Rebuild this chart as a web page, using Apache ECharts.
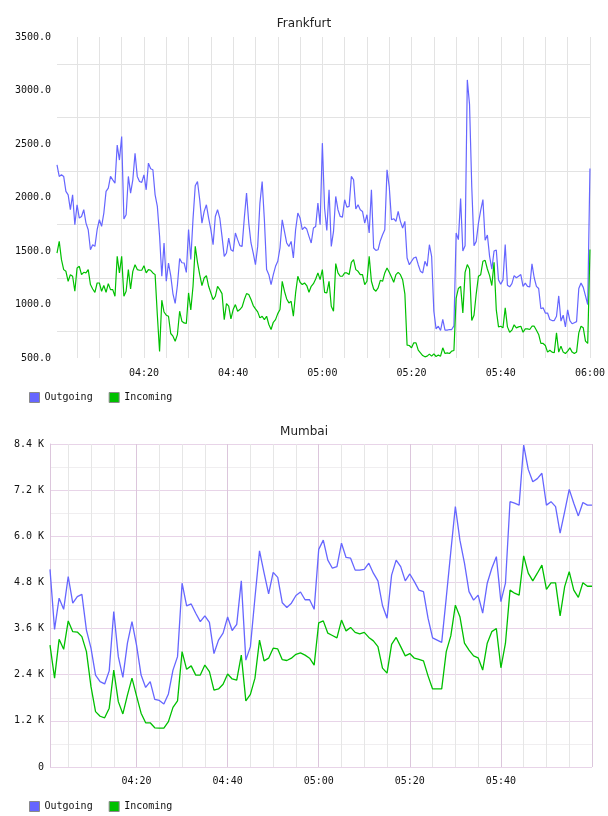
<!DOCTYPE html>
<html>
<head>
<meta charset="utf-8">
<script src="https://cdn.jsdelivr.net/npm/echarts@6/dist/echarts.min.js"></script>
<style>
html,body{margin:0;padding:0;background:#fff;}
#chart{width:608px;height:816px;}
</style>
</head>
<body>
<div id="chart"></div>
<script>
// ---- Frankfurt: 30-second samples from 04:00:30 to 06:00:00 ----
const fraStartMin = 240.5;   // 04:00:30
const fraStepMin = 0.5;
const fraOutgoing = [
2305,2197,2212,2197,2057,2025,1886,2025,1745,1932,
1808,1823,1886,1761,1699,1512,1559,1543,1699,1792,
1730,1854,2057,2088,2197,2165,2134,2490,2350,2570,
1800,1839,2197,2041,2165,2414,2197,2150,2141,2212,
2072,2321,2268,2259,2025,1917,1640,1264,1575,1217,
1388,1270,1100,1010,1180,1430,1390,1388,1300,1700,
1420,1800,2110,2150,1979,1761,1870,1932,1808,1699,
1559,1823,1886,1808,1637,1450,1481,1621,1512,1497,
1668,1606,1550,1543,1808,2041,1761,1575,1481,1372,
1543,1948,2150,1792,1326,1279,1186,1279,1357,1404,
1528,1792,1683,1575,1543,1590,1435,1699,1854,1808,
1699,1724,1705,1637,1575,1715,1730,1948,1746,2508,
1900,1693,2072,1543,1683,2010,1886,1823,1817,1979,
1910,1917,2197,2166,1892,1932,1886,1870,1761,1839,
1668,2072,1528,1506,1512,1596,1652,1699,2259,2100,
1792,1802,1777,1870,1777,1715,1777,1435,1372,1404,
1435,1444,1372,1310,1295,1404,1357,1559,1450,937,
772,797,757,860,760,760,766,766,800,1668,
1606,1990,1500,1550,3099,2870,2100,1550,1590,1760,
1880,1980,1600,1650,1450,1330,1500,1510,1230,1190,
1230,1560,1180,1165,1195,1270,1250,1265,1280,1170,
1200,1170,1165,1380,1250,1170,1150,960,970,920,
920,860,850,850,890,1080,845,900,790,950,
850,820,830,840,1150,1200,1160,1080,1000,2270
];
const fraIncoming = [
1481,1590,1419,1326,1310,1217,1279,1264,1124,1341,
1357,1279,1301,1295,1326,1186,1145,1114,1201,1201,
1124,1177,1114,1195,1139,1139,1077,1450,1295,1450,
1077,1124,1326,1145,1310,1372,1326,1320,1320,1363,
1295,1326,1320,1295,1279,900,560,1040,930,900,
890,729,704,657,719,937,844,828,822,1108,
950,1170,1543,1394,1279,1177,1248,1270,1170,1108,
1046,1077,1170,1139,1102,859,1009,984,866,953,
999,937,953,977,1046,1102,1093,1046,990,959,
931,875,890,859,890,813,766,834,859,915,
953,1217,1124,1052,1015,1030,890,1108,1264,1208,
1186,1201,1177,1114,1170,1195,1239,1295,1232,1326,
1114,1108,1217,984,937,1382,1295,1264,1264,1295,
1295,1279,1394,1419,1326,1310,1279,1279,1186,1217,
1450,1217,1145,1124,1155,1226,1217,1295,1341,1301,
1257,1208,1279,1301,1279,1232,1100,620,617,595,
642,642,573,548,523,511,517,536,517,539,
514,527,517,595,542,548,542,564,570,1060,
1150,1170,922,1300,1373,1332,850,900,1100,1264,
1279,1404,1413,1332,1270,1177,1394,950,791,797,
782,968,791,741,760,810,782,791,797,741,
772,772,766,797,797,760,720,636,636,617,
555,573,555,549,735,555,611,555,542,564,
595,555,542,555,735,797,782,657,636,1513
];
const fraYTicks = [500, 3500, 500]; // min, max, step

// ---- Mumbai: 1-minute samples from 04:01 to 06:00 (values in thousands) ----
const mumStartMin = 241;     // 04:01
const mumStepMin = 1;
const mumOutgoing = [
5.14,3.58,4.39,4.10,4.95,4.26,4.43,4.49,3.56,3.09,
2.39,2.22,2.16,2.50,4.04,2.87,2.33,3.22,3.78,3.17,
2.39,2.07,2.22,1.76,1.73,1.64,1.90,2.52,2.87,4.78,
4.19,4.24,4.00,3.78,3.93,3.76,2.95,3.30,3.48,3.90,
3.55,3.71,4.84,2.78,3.13,4.40,5.62,5.05,4.50,5.06,
4.93,4.27,4.15,4.26,4.46,4.55,4.35,4.35,4.10,5.66,
5.90,5.38,5.17,5.21,5.82,5.45,5.43,5.12,5.12,5.14,
5.30,5.04,4.84,4.20,3.87,4.99,5.38,5.21,4.84,5.02,
4.82,4.60,4.56,3.87,3.36,3.30,3.24,4.40,5.60,6.77,
5.90,5.30,4.56,4.34,4.47,4.00,4.78,5.17,5.47,4.30,
4.78,6.90,6.86,6.81,8.37,7.74,7.42,7.50,7.64,6.81,
6.90,6.77,6.08,6.64,7.22,6.86,6.53,6.88,6.81,6.81
];
const mumIncoming = [
3.17,2.31,3.32,3.06,3.80,3.52,3.51,3.39,3.00,2.09,
1.44,1.32,1.28,1.53,2.52,1.70,1.38,1.87,2.31,1.85,
1.40,1.15,1.15,1.02,1.01,1.01,1.18,1.55,1.72,3.00,
2.54,2.63,2.39,2.39,2.65,2.48,2.00,2.03,2.15,2.42,
2.29,2.26,2.91,1.72,1.89,2.31,3.30,2.76,2.83,3.09,
3.07,2.79,2.77,2.83,2.93,2.97,2.91,2.83,2.65,3.75,
3.80,3.48,3.42,3.36,3.82,3.54,3.63,3.50,3.46,3.50,
3.37,3.28,3.13,2.57,2.44,3.19,3.37,3.13,2.89,2.95,
2.83,2.80,2.76,2.37,2.03,2.03,2.03,3.00,3.41,4.21,
3.91,3.22,3.04,2.89,2.84,2.52,3.22,3.52,3.60,2.58,
3.22,4.60,4.52,4.47,5.49,5.04,4.84,5.04,5.25,4.62,
4.79,4.79,3.93,4.69,5.08,4.60,4.41,4.79,4.70,4.70
];
const mumYTicks = [0, 8.4, 1.2]; // min, max, step (thousands)

const seriesNames = ['Outgoing', 'Incoming'];

// ---- helpers ----
function pad(n){ return (n < 10 ? '0' : '') + n; }
function timeLabel(mins){
  const totalSec = Math.round(mins * 60);
  const h = Math.floor(totalSec / 3600);
  const m = Math.floor((totalSec % 3600) / 60);
  const s = totalSec % 60;
  return pad(h) + ':' + pad(m) + (s ? ':' + pad(s) : '');
}
function secOf(mins){ return Math.round(mins * 60); }
const fraCats = fraOutgoing.map((_, i) => timeLabel(fraStartMin + i * fraStepMin));
const mumCats = mumOutgoing.map((_, i) => timeLabel(mumStartMin + i * mumStepMin));
const fraSec = i => secOf(fraStartMin + i * fraStepMin);
const mumSec = i => secOf(mumStartMin + i * mumStepMin);
const mumLast = mumCats.length - 1;

const BLUE = '#6666ff', GREEN = '#00c000';
const MONO = 'DejaVu Sans Mono';
const GRAY = '#e3e3e3';
const PURPLE = '#e8d4e8';
const LIGHT = '#f0eef0';

const mumVColors = ['#e6e6e6','#e6e6e6','#e6e6e6','#dcc6dc'];

const chart = echarts.init(document.getElementById('chart'), null, {renderer: 'canvas'});
chart.setOption({
  animation: false,
  backgroundColor: '#ffffff',
  color: [BLUE, GREEN],
  title: [
    {text: 'Frankfurt', left: 'center', top: 13,
     textStyle: {fontFamily: 'DejaVu Sans', fontSize: 12, fontWeight: 'normal', color: '#222'}},
    {text: 'Mumbai', left: 'center', top: 421,
     textStyle: {fontFamily: 'DejaVu Sans', fontSize: 12, fontWeight: 'normal', color: '#222'}}
  ],
  legend: [
    {data: seriesNames, left: 24, top: 387, itemWidth: 10, itemHeight: 10, itemGap: 16, icon: 'rect',
     itemStyle: {borderColor: '#8a8a8a', borderWidth: 1},
     textStyle: {fontFamily: MONO, fontSize: 10, color: '#111'}, selectedMode: false},
    {data: seriesNames, left: 24, top: 796, itemWidth: 10, itemHeight: 10, itemGap: 16, icon: 'rect',
     itemStyle: {borderColor: '#8a8a8a', borderWidth: 1},
     textStyle: {fontFamily: MONO, fontSize: 10, color: '#111'}, selectedMode: false}
  ],
  grid: [
    {left: 57, top: 37, width: 535.4, height: 321},
    {left: 50, top: 444, width: 542, height: 323}
  ],
  xAxis: [
    {type: 'category', gridIndex: 0, data: fraCats, boundaryGap: false,
     axisLine: {show: false}, axisTick: {show: false},
     axisLabel: {interval: (i) => fraSec(i) % 1200 === 0, margin: 10,
                 fontFamily: MONO, fontSize: 10, color: '#111'},
     splitLine: {show: true, interval: (i) => fraSec(i) % 300 === 0,
                 lineStyle: {color: GRAY, width: 1}}},
    {type: 'category', gridIndex: 1, data: mumCats, boundaryGap: false,
     axisLine: {show: false}, axisTick: {show: false},
     axisLabel: {interval: (i) => mumSec(i) % 1200 === 0 && i < mumLast, margin: 9,
                 fontFamily: MONO, fontSize: 10, color: '#111'},
     splitLine: {show: true, interval: (i) => mumSec(i) % 300 === 0,
                 lineStyle: {color: mumVColors, width: 1}}}
  ],
  yAxis: [
    {type: 'value', gridIndex: 0, min: fraYTicks[0], max: fraYTicks[1], interval: fraYTicks[2],
     axisLine: {show: false}, axisTick: {show: false},
     axisLabel: {formatter: v => v.toFixed(1), margin: 6, fontFamily: MONO, fontSize: 10, color: '#111'},
     splitLine: {show: false},
     minorTick: {show: false, splitNumber: 2},
     minorSplitLine: {show: true, lineStyle: {color: GRAY, width: 1}}},
    {type: 'value', gridIndex: 1, min: mumYTicks[0], max: mumYTicks[1], interval: mumYTicks[2],
     axisLine: {show: true, lineStyle: {color: '#dcc6dc', width: 1}}, axisTick: {show: false},
     axisLabel: {formatter: v => (Math.abs(v) < 1e-9 ? '0' : v.toFixed(1) + ' K'), margin: 6,
                 fontFamily: MONO, fontSize: 10, color: '#111'},
     splitLine: {show: true, lineStyle: {color: PURPLE, width: 1}},
     minorTick: {show: false, splitNumber: 2},
     minorSplitLine: {show: true, lineStyle: {color: LIGHT, width: 1}}}
  ],
  series: [
    {name: 'Outgoing', type: 'line', xAxisIndex: 0, yAxisIndex: 0, data: fraOutgoing,
     showSymbol: false, symbol: 'none', lineStyle: {color: BLUE, width: 1.2}, itemStyle: {color: BLUE}},
    {name: 'Incoming', type: 'line', xAxisIndex: 0, yAxisIndex: 0, data: fraIncoming,
     showSymbol: false, symbol: 'none', lineStyle: {color: GREEN, width: 1.2}, itemStyle: {color: GREEN}},
    {name: 'Outgoing', type: 'line', xAxisIndex: 1, yAxisIndex: 1, data: mumOutgoing,
     showSymbol: false, symbol: 'none', lineStyle: {color: BLUE, width: 1.3}, itemStyle: {color: BLUE}},
    {name: 'Incoming', type: 'line', xAxisIndex: 1, yAxisIndex: 1, data: mumIncoming,
     showSymbol: false, symbol: 'none', lineStyle: {color: GREEN, width: 1.3}, itemStyle: {color: GREEN}}
  ]
});
</script>
</body>
</html>
